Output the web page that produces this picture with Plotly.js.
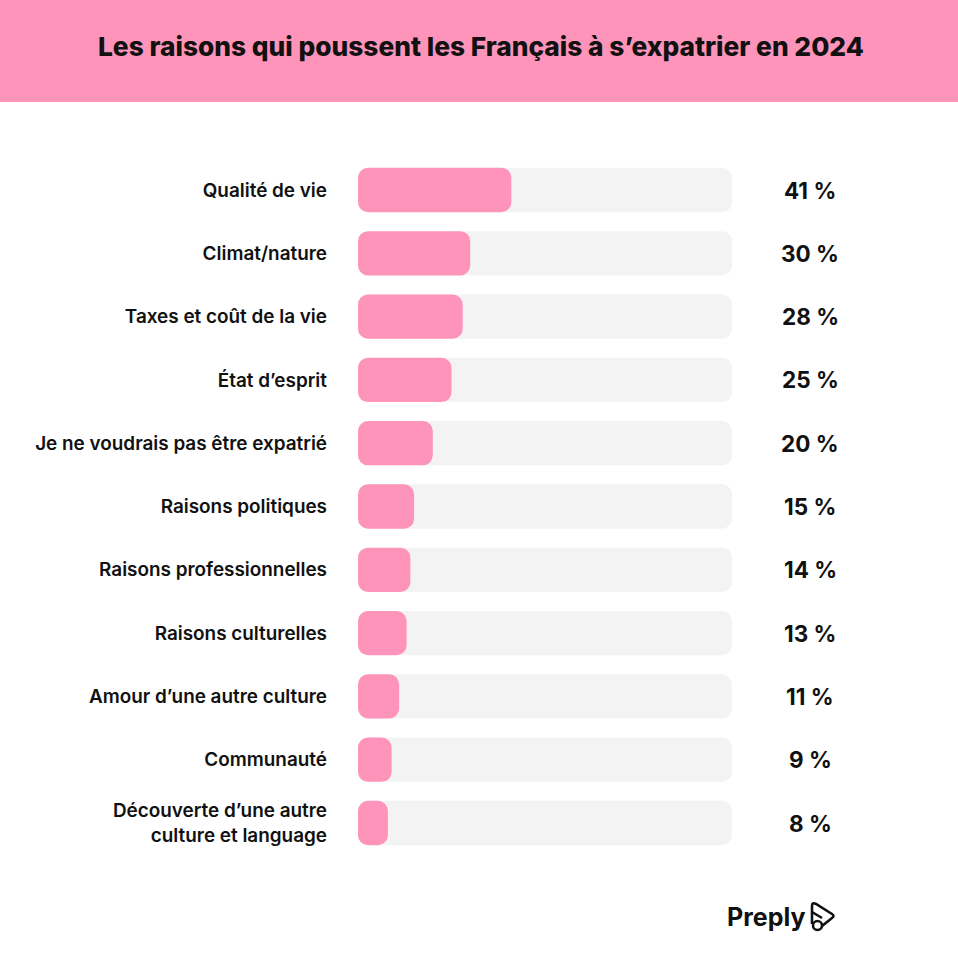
<!DOCTYPE html>
<html><head><meta charset="utf-8">
<script src="https://cdn.plot.ly/plotly-3.0.1.min.js"></script>
<style>html,body{margin:0;padding:0;background:#fff;}#chart{width:958px;height:968px;}</style>
</head><body><div id="chart"></div>
<script>
const categories = [
  "Qualité de vie",
  "Climat/nature",
  "Taxes et coût de la vie",
  "État d’esprit",
  "Je ne voudrais pas être expatrié",
  "Raisons politiques",
  "Raisons professionnelles",
  "Raisons culturelles",
  "Amour d’une autre culture",
  "Communauté",
  "Découverte d’une autre<br>culture et language"
];
const values = [41, 30, 28, 25, 20, 15, 14, 13, 11, 9, 8];
const trackMax = 100;
const valueLabels = values.map(v => v + " %");
const titleText = "Les raisons qui poussent les Français à s’expatrier en 2024";

const W = 958, H = 968;
const pink = "#ff94bb";
const grey = "#f3f3f3";
const font = "Inter, 'Noto Sans', sans-serif";

// An explicit base makes Plotly round both ends of each bar.
function roundedBars(vals, color) {
  return {type: "bar", orientation: "h", y: categories, x: vals, base: vals.map(() => 0),
          width: 0.7, hoverinfo: "skip", marker: {color: color, cornerradius: 10}};
}
const traces = [
  roundedBars(categories.map(() => trackMax), grey),
  roundedBars(values, pink)
];

const annotations = categories.map((c, i) => ({
  xref: "paper", yref: "y", x: 810 / W, y: c, text: valueLabels[i],
  showarrow: false, xanchor: "center", yanchor: "middle",
  font: {family: font, size: 22.5, color: "#111", weight: 700}
}));
annotations.push({
  xref: "paper", yref: "paper", x: 481 / W, y: 1 - 47 / H, text: titleText,
  showarrow: false, xanchor: "center", yanchor: "middle",
  font: {family: font, size: 26.3, color: "#111", weight: 800}
});
annotations.push({
  xref: "paper", yref: "paper", x: 808 / W, y: 1 - 917 / H, text: "Preply",
  showarrow: false, xanchor: "right", yanchor: "middle",
  font: {family: font, size: 25, color: "#111", weight: 700}
});

const anchor = {xref: "paper", yref: "paper", xsizemode: "pixel", ysizemode: "pixel",
                xanchor: 812 / W, yanchor: 1 - 917 / H};
const shapes = [
  {type: "rect", xref: "paper", yref: "paper", x0: 0, x1: 1, y0: 1 - 102 / H, y1: 1,
   fillcolor: pink, line: {width: 0}, layer: "below"},
  Object.assign({}, anchor, {type: "path",
   path: "M 0 -7 L 0 11 Q 0 15 4 13 L 20 3 Q 23 1 20 -1 L 10 -9",
   line: {color: "#111", width: 2.6}, fillcolor: "rgba(0,0,0,0)"}),
  Object.assign({}, anchor, {type: "path",
   path: "M 0 5 L 10 -1",
   line: {color: "#111", width: 2.6}}),
  Object.assign({}, anchor, {type: "circle", x0: 1, x1: 10, y0: -13, y1: -4,
   line: {color: "#111", width: 2.6}, fillcolor: "#fff"})
];

const layout = {
  width: W, height: H,
  margin: {l: 0, r: 0, t: 0, b: 0},
  paper_bgcolor: "#fff", plot_bgcolor: "#fff",
  barmode: "overlay",
  showlegend: false,
  xaxis: {domain: [358 / W, 732 / W], range: [0, 100], visible: false, fixedrange: true},
  yaxis: {domain: [1 - 854.65 / H, 1 - 158.35 / H], range: [10.5, -0.5],
          type: "category", showgrid: false, zeroline: false, showline: false,
          ticks: "", ticklabelstandoff: 30,
          tickfont: {family: font, size: 18.9, color: "#111", weight: 600}},
  annotations: annotations,
  shapes: shapes
};

Plotly.newPlot("chart", traces, layout, {displayModeBar: false, staticPlot: true});
</script>
</body></html>
